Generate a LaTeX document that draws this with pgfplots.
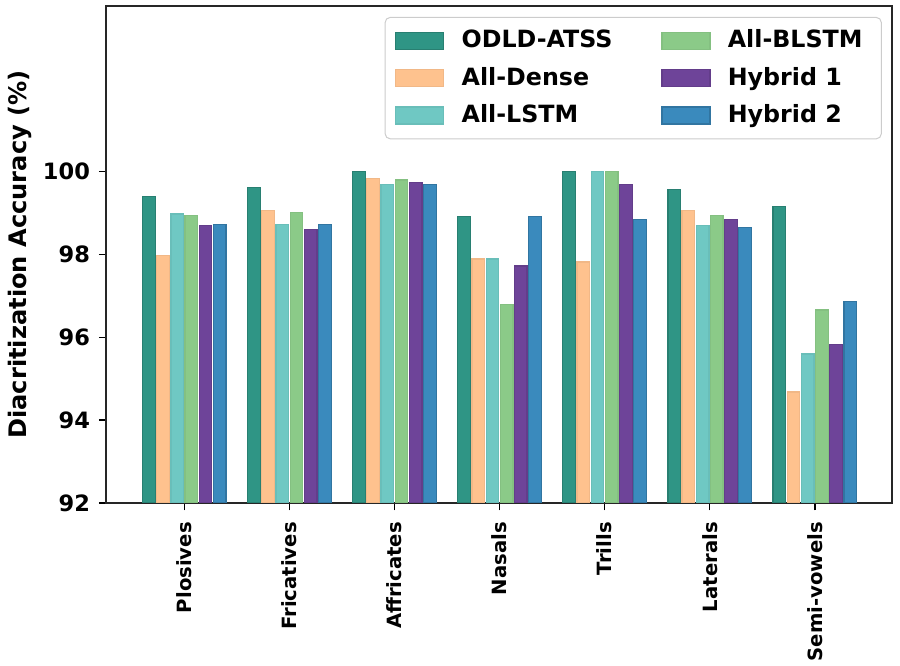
\documentclass[border=0pt]{standalone}
\usepackage{fontspec}
\setmainfont{DejaVu Sans}
\usepackage{pgfplots}
\pgfplotsset{compat=1.18}

\definecolor{codld}{HTML}{2F9585}
\definecolor{cdense}{HTML}{FEC28E}
\definecolor{clstm}{HTML}{6FC8C3}
\definecolor{cblstm}{HTML}{8BCA88}
\definecolor{chyb1}{HTML}{6E4499}
\definecolor{chyb2}{HTML}{3A8ABD}

% one px of the reference = 0.4pt
\begin{document}
\begin{tikzpicture}
\begin{axis}[
  scale only axis,
  width=314.4pt, height=198.8pt,
  ybar, bar width=0.12,
  xmin=-0.745, xmax=6.735,
  ymin=92, ymax=104,
  xtick={0,...,6},
  xticklabels={Plosives,Fricatives,Affricates,Nasals,Trills,Laterals,Semi-vowels},
  ytick={92,94,...,100},
  tick align=outside, tick pos=left,
  major tick length=2.9pt,
  every tick/.style={black, line width=0.6pt},
  axis line style={line width=0.8pt, black!85},
  /pgf/number format/assume math mode=true,
  xticklabel style={rotate=90, anchor=east, inner sep=0pt, font=\fontsize{7.85}{9}\selectfont\bfseries},
  xticklabel shift=4.6pt,
  yticklabel style={font=\fontsize{9}{10.8}\selectfont\bfseries},
  ylabel={Diacritization Accuracy (\%)},
  ylabel style={font=\fontsize{9.65}{11}\selectfont\bfseries, at={(axis description cs:-0.110,0.5)}, anchor=center},
  legend columns=2,
  legend cell align=left,
  legend image code/.code={\path[#1, sharp corners] (0pt,-3.4pt) rectangle (19.2pt,3.4pt); \path (22.6pt,0pt);},
  legend style={at={(0.987,0.978)}, anchor=north east, draw=black!20, rounded corners=2pt,
    font=\fontsize{9.5}{11}\selectfont\bfseries, row sep=2.2pt, inner xsep=4pt, inner ysep=3pt,
    /tikz/every even column/.append style={column sep=16pt},
    nodes={inner xsep=3.5pt}},
]
\addplot[fill=codld, draw=codld!85!black, line width=0.5pt, bar shift=-0.3375] coordinates {
(0,99.40) (1,99.62) (2,100.00) (3,98.91) (4,100.00) (5,99.57) (6,99.15)};
\addlegendentry{ODLD-ATSS}
\addplot[fill=cblstm, draw=cblstm!95!black, line width=0.5pt, bar shift=0.0675] coordinates {
(0,98.95) (1,99.02) (2,99.80) (3,96.80) (4,100.00) (5,98.95) (6,96.66)};
\addlegendentry{All-BLSTM}
\addplot[fill=cdense, draw=cdense!95!black, line width=0.5pt, bar shift=-0.2025] coordinates {
(0,97.97) (1,99.06) (2,99.83) (3,97.89) (4,97.82) (5,99.06) (6,94.68)};
\addlegendentry{All-Dense}
\addplot[fill=chyb1, draw=chyb1!90!black, line width=0.5pt, bar shift=0.2025] coordinates {
(0,98.70) (1,98.60) (2,99.73) (3,97.72) (4,99.69) (5,98.85) (6,95.82)};
\addlegendentry{Hybrid 1}
\addplot[fill=clstm, draw=clstm!95!black, line width=0.5pt, bar shift=-0.0675] coordinates {
(0,98.98) (1,98.73) (2,99.69) (3,97.89) (4,100.00) (5,98.70) (6,95.60)};
\addlegendentry{All-LSTM}
\addplot[fill=chyb2, draw=chyb2!85!black, line width=0.5pt, bar shift=0.3375] coordinates {
(0,98.73) (1,98.73) (2,99.69) (3,98.91) (4,98.85) (5,98.66) (6,96.87)};
\addlegendentry{Hybrid 2}
\end{axis}
\pgfresetboundingbox
\path[use as bounding box] ([xshift=-42.4pt,yshift=-65.2pt]current axis.south west)
  rectangle ([xshift=3.2pt,yshift=2.4pt]current axis.north east);
\end{tikzpicture}
\end{document}
